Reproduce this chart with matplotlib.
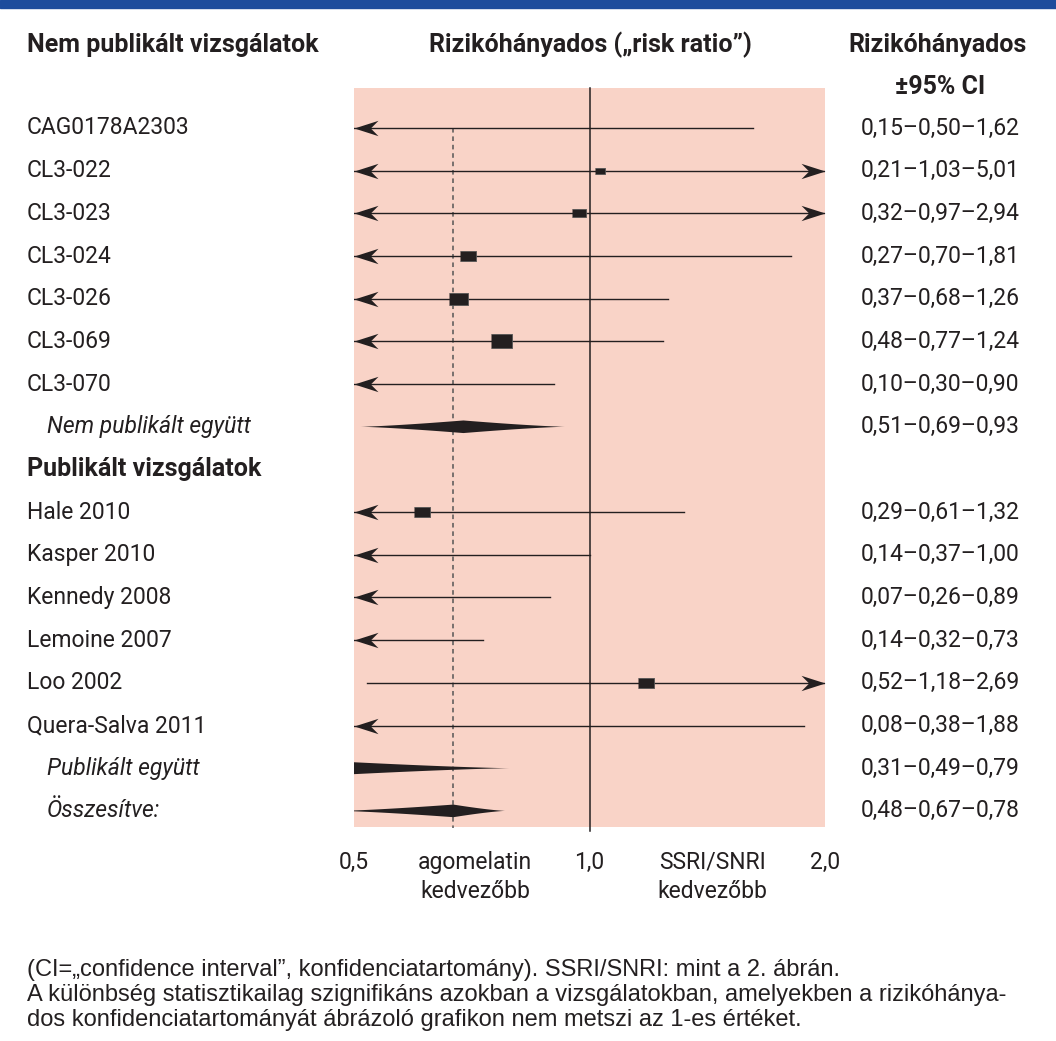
import numpy as np
import matplotlib.pyplot as plt
from matplotlib.transforms import blended_transform_factory
from matplotlib.patches import Polygon

W, H = 1056, 1041

# Vizsgálatok és kockázati arányok (alsó határ, pontbecslés, felső határ)
studies = ['CAG0178A2303', 'CL3-022', 'CL3-023', 'CL3-024', 'CL3-026', 'CL3-069', 'CL3-070',
           'Hale 2010', 'Kasper 2010', 'Kennedy 2008', 'Lemoine 2007', 'Loo 2002', 'Quera-Salva 2011']
lower = [0.15, 0.21, 0.32, 0.27, 0.37, 0.48, 0.10, 0.29, 0.14, 0.07, 0.14, 0.52, 0.08]
point = [0.50, 1.03, 0.97, 0.70, 0.68, 0.77, 0.30, 0.61, 0.37, 0.26, 0.32, 1.18, 0.38]
upper = [1.62, 5.01, 2.94, 1.81, 1.26, 1.24, 0.90, 1.32, 1.00, 0.89, 0.73, 2.69, 1.88]
weight = [0, 10, 14, 16, 19, 21, 0, 16, 0, 0, 0, 16, 0]   # négyzet szélessége (px)

pooled_names = ['Nem publikált együtt', 'Publikált együtt', 'Összesítve:']
pooled_lower = [0.51, 0.31, 0.48]
pooled_point = [0.69, 0.49, 0.67]
pooled_upper = [0.93, 0.79, 0.78]

# sorok sorrendje a táblázatban
study_rows = [0, 1, 2, 3, 4, 5, 6, 9, 10, 11, 12, 13, 14]
pooled_rows = [7, 15, 16]
group_rows = {8: 'Publikált vizsgálatok'}

xticks = [0.5, 1.0, 2.0]
xticklabels = ['0,5', '1,0', '2,0']
overall = pooled_point[2]

main_font = ['Roboto', 'DejaVu Sans']
note_font = ['Liberation Sans', 'DejaVu Sans']
ink = '#231f20'
FS = 16.5


def fx(px):
    return px / W


def fy(py):
    return 1 - py / H


fig = plt.figure(figsize=(W / 100, H / 100), dpi=100)
fig.patches.append(plt.Rectangle((0, fy(8)), 1, 8 / H, transform=fig.transFigure,
                                 color='#1d4c9c', zorder=0))

x0, x1, y0, y1 = 354, 825, 88, 827
ax = fig.add_axes([fx(x0), fy(y1), (x1 - x0) / W, (y1 - y0) / H])
ax.set_xscale('log')
ax.set_xlim(0.5, 2.0)
row_h = 42.68
ax.set_ylim((y1 - 128) / row_h, (y0 - 128) / row_h)
ax.set_facecolor('#f9d3c7')
for s in ax.spines.values():
    s.set_visible(False)
ax.set_xticks([])
ax.set_yticks([])
ax.minorticks_off()

px_pt = 72 / 100
head = [(0, 0), (1, 0.32), (0.68, 0), (1, -0.32)]
head_r = [(-x, y) for x, y in head]

# vonalak 1,0-nál és az összesített becslésnél
ax.axvline(1.0, ymin=-0.005, ymax=1, color=ink, lw=1.1, clip_on=False, zorder=2)
ax.plot([overall, overall], [0, (y1 + 1 - 128) / row_h], color='#555555', lw=1.1,
        ls=(0, (3, 2.5)), zorder=2, clip_on=False)

for r, lo, pt, hi, w in zip(study_rows, lower, point, upper, weight):
    a, b = max(lo, 0.5), min(hi, 2.0)
    ax.plot([a, b], [r, r], color=ink, lw=1.0, zorder=3)
    if lo < 0.5:
        ax.plot(0.5, r, marker=head, markersize=48 * px_pt, color=ink,
                markeredgewidth=0, clip_on=False, zorder=4)
    if hi > 2.0:
        ax.plot(2.0, r, marker=head_r, markersize=48 * px_pt, color=ink,
                markeredgewidth=0, clip_on=False, zorder=4)
    if w and 0.5 <= pt <= 2.0:
        box = [(-1, -0.62), (1, -0.62), (1, 0.62), (-1, 0.62)]
        ax.plot(pt, r, marker=box, markersize=w * px_pt, color=ink,
                markeredgecolor='#555555', markeredgewidth=0.6, zorder=5)

# összesített becslések: enyhén homorú oldalú rombusz
hh = 6.3 / row_h
t = np.linspace(0, 1, 40)
for r, lo, pt, hi in zip(pooled_rows, pooled_lower, pooled_point, pooled_upper):
    left_x = np.exp(np.log(lo) + (np.log(pt) - np.log(lo)) * t)
    right_x = np.exp(np.log(pt) + (np.log(hi) - np.log(pt)) * t)
    top_x = np.concatenate([left_x, right_x])
    prof = hh * np.concatenate([t ** 1.3, (1 - t) ** 1.3])
    xs = np.concatenate([top_x, top_x[::-1]])
    ys = np.concatenate([r - prof, r + prof[::-1]])
    ax.add_patch(Polygon(np.column_stack([xs, ys]), closed=True,
                         facecolor=ink, edgecolor='none', zorder=4))

# szöveges oszlopok
lab = blended_transform_factory(fig.transFigure, ax.transData)
txt = dict(fontsize=FS, family=main_font, color=ink, va='center')
hdr = dict(fontsize=18, family=main_font, weight='bold', color=ink, va='center')
for r, name in zip(study_rows, studies):
    fig.text(fx(27), r, name, transform=lab, ha='left', **txt)
for r, name in zip(pooled_rows, pooled_names):
    fig.text(fx(47), r, name, transform=lab, ha='left', style='italic', **txt)
for r, name in group_rows.items():
    fig.text(fx(27), r, name, transform=lab, ha='left', **hdr)


def ci_text(lo, pt, hi):
    return '–'.join(f'{v:.2f}'.replace('.', ',') for v in (lo, pt, hi))


for r, lo, pt, hi in zip(study_rows, lower, point, upper):
    fig.text(fx(940), r, ci_text(lo, pt, hi), transform=lab, ha='center', **txt)
for r, lo, pt, hi in zip(pooled_rows, pooled_lower, pooled_point, pooled_upper):
    fig.text(fx(940), r, ci_text(lo, pt, hi), transform=lab, ha='center', **txt)

# fejléc
fig.text(fx(27), fy(45), 'Nem publikált vizsgálatok', ha='left', **hdr)
fig.text(fx(590), fy(45), 'Rizikóhányados („risk ratio”)', ha='center', **hdr)
fig.text(fx(937), fy(45), 'Rizikóhányados', ha='center', **hdr)
fig.text(fx(940), fy(87), '±95% CI', ha='center', **hdr)

# tengelyfeliratok
tick_tr = blended_transform_factory(ax.transData, fig.transFigure)
for v, tl in zip(xticks, xticklabels):
    fig.text(v, fy(862), tl, transform=tick_tr, ha='center', **txt)
for xc, l1 in [(475, 'agomelatin'), (712, 'SSRI/SNRI')]:
    fig.text(fx(xc), fy(862), l1, ha='center', **txt)
    fig.text(fx(xc), fy(892), 'kedvezőbb', ha='center', **txt)

note = ['(CI=„confidence interval”, konfidenciatartomány). SSRI/SNRI: mint a 2. ábrán.',
        'A különbség statisztikailag szignifikáns azokban a vizsgálatokban, amelyekben a rizikóhánya-',
        'dos konfidenciatartományát ábrázoló grafikon nem metszi az 1-es értéket.']
for i, line in enumerate(note):
    fig.text(fx(27), fy(970 + 25 * i), line, ha='left', va='center', fontsize=17,
             family=note_font, color=ink)

fig.savefig('out.png', dpi=100)
